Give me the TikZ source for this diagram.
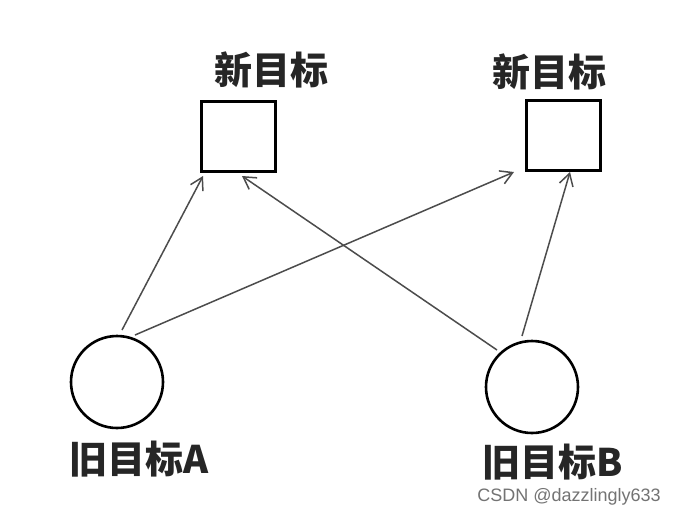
\documentclass[tikz,border=0pt]{standalone}
\usepackage{fontspec}
\setmainfont{Liberation Sans}
\newfontfamily\cjk{Noto Sans CJK SC}
\usetikzlibrary{arrows.meta}
\begin{document}
\begin{tikzpicture}[x=1pt,y=-1pt,
  newbox/.style={draw=black,line width=3pt,minimum width=74pt,minimum height=70pt,inner sep=0pt},
  oldcirc/.style={draw=black,line width=2.6pt,circle,minimum size=92pt,inner sep=0pt},
  lbl/.style={font=\cjk\bfseries\fontsize{38}{40}\selectfont,text=black!85,inner sep=0pt},
  conn/.style={draw=black!70,line width=1.5pt,-{Straight Barb[length=12pt,width=14pt,line width=1.5pt]}}]
\useasboundingbox (0,0) rectangle (674,515);
\fill[white] (0,0) rectangle (674,515);
\node[newbox] (n1) at (238.5,136.5) {};
\node[newbox] (n2) at (563.5,135) {};
\node[lbl] (t1) at (271,70) {新目标};
\node[lbl] (t2) at (549,72) {新目标};
\node[oldcirc] (a) at (117,382) {};
\node[oldcirc] (b) at (532,387) {};
\node[lbl] (la) at (139,459) {旧目标A};
\node[lbl] (lb) at (553,462) {旧目标B};
\node[font=\fontsize{18}{20}\selectfont,text=black!55,anchor=east,inner sep=0pt] (wm) at (661,497) {CSDN @dazzlingly633};
\coordinate (a1) at (122,330);
\coordinate (a2) at (135,335);
\coordinate (b1) at (497,350);
\coordinate (b2) at (522,336);
\coordinate (e1) at (203,176);
\coordinate (e2) at (514,172);
\coordinate (e3) at (242,176);
\coordinate (e4) at (570,172);
\draw[conn] (a1) -- (e1);
\draw[conn] (a2) -- (e2);
\draw[conn] (b1) -- (e3);
\draw[conn] (b2) -- (e4);
\end{tikzpicture}
\end{document}
